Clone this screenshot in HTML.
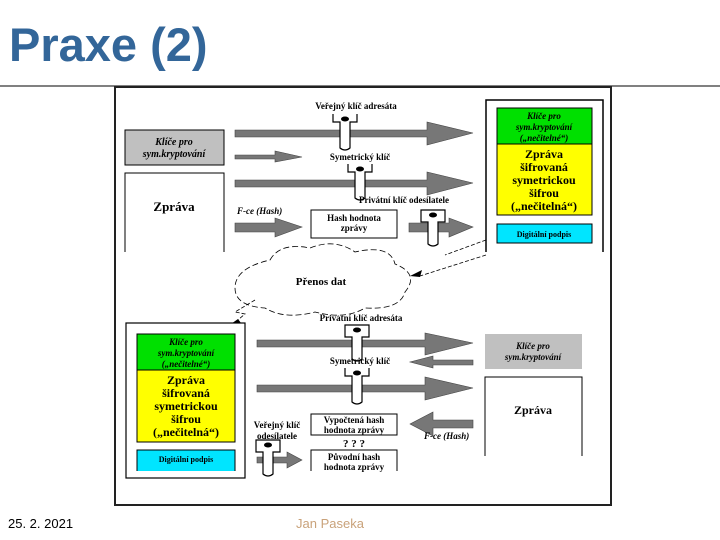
<!DOCTYPE html>
<html><head><meta charset="utf-8"><style>
html,body{margin:0;padding:0;background:#fff;width:720px;height:540px;overflow:hidden}
svg{position:absolute;left:0;top:0}
text{font-family:"Liberation Serif",serif;font-weight:bold}
</style></head><body>
<svg width="720" height="540" viewBox="0 0 720 540">
<defs>
<g id="key"><path d="M-12,0 h24 v12 h-7 v22 q-5,4 -10,0 v-22 h-7 z" fill="#fff" stroke="#000" stroke-width="1.2"/><ellipse cx="0" cy="5" rx="4" ry="2.5" fill="#000"/></g>
<g id="okey"><path d="M-12,0 v8 h7 v26 q5,4 10,0 v-26 h7 v-8" fill="#fff" stroke="#000" stroke-width="1.2"/><ellipse cx="0" cy="5" rx="4" ry="2.5" fill="#000"/></g>
</defs>
<text x="9" y="61" style="font-family:'Liberation Sans',sans-serif;font-size:47px;fill:#336699">Praxe (2)</text>
<line x1="0" y1="86" x2="720" y2="86" stroke="#000" stroke-width="1"/>
<rect x="115" y="87" width="496" height="418" fill="#fff" stroke="#222" stroke-width="2"/>
<text x="8" y="528" style="font-family:'Liberation Sans',sans-serif;font-weight:normal;font-size:13px;fill:#000">25. 2. 2021</text>
<text x="296" y="528" style="font-family:'Liberation Sans',sans-serif;font-weight:normal;font-size:13px;fill:#c9a27a">Jan Paseka</text>

<g fill="#777" stroke="#444" stroke-width="0.6">
<path d="M235,130 h192 v-8 l46,11 l-46,12 v-8 h-192z"/>
<path d="M235,155 h40 v-4 l27,6 l-27,5 v-3 h-40z"/>
<path d="M235,180 h192 v-8 l46,11 l-46,12 v-8 h-192z"/>
<path d="M235,223 h40 v-5 l27,9 l-27,10 v-5 h-40z"/>
<path d="M409,223 h40 v-5 l24,9 l-24,10 v-5 h-40z"/>
<path d="M257,340 h168 v-7 l48,10 l-48,12 v-8 h-168z"/>
<path d="M473,360 h-40 v-4 l-23,6 l23,6 v-3 h40z"/>
<path d="M257,385 h168 v-8 l48,11 l-48,12 v-8 h-168z"/>
<path d="M473,420 h-40 v-8 l-23,12 l23,12 v-8 h40z"/>
<path d="M257,457 h30 v-5 l15,8 l-15,8 v-5 h-30z"/>
</g>
<use href="#okey" x="345" y="114"/>
<use href="#okey" x="360" y="164"/>
<use href="#key" x="433" y="210"/>
<use href="#key" x="357" y="325"/>
<use href="#okey" x="357" y="368"/>
<use href="#key" x="268" y="440"/>

<g font-size="9">
<text x="356" y="109" text-anchor="middle">Veřejný klíč adresáta</text>
<text x="360" y="160" text-anchor="middle">Symetrický klíč</text>
<text x="404" y="203" text-anchor="middle">Privátní klíč odesílatele</text>
<text x="361" y="321" text-anchor="middle">Privátní klíč adresáta</text>
<text x="360" y="364" text-anchor="middle">Symetrický klíč</text>
<text x="277" y="428" text-anchor="middle">Veřejný klíč</text>
<text x="277" y="439" text-anchor="middle">odesílatele</text>
</g>
<text x="237" y="214" font-size="9" font-style="italic" font-weight="normal">F-ce (Hash)</text>
<text x="424" y="439" font-size="9" font-style="italic" font-weight="normal">F-ce (Hash)</text>

<rect x="125" y="130" width="99" height="35" fill="#c0c0c0" stroke="#000"/>
<text x="174" y="145" font-size="10" font-style="italic" font-weight="normal" text-anchor="middle">Klíče pro</text>
<text x="174" y="157" font-size="10" font-style="italic" font-weight="normal" text-anchor="middle">sym.kryptování</text>
<path d="M125,252 V173 H224 V252" fill="#fff" stroke="#000"/>
<text x="174" y="211" font-size="13" text-anchor="middle">Zpráva</text>
<rect x="311" y="210" width="86" height="28" fill="#fff" stroke="#000"/>
<text x="354" y="221" font-size="9" text-anchor="middle">Hash hodnota</text>
<text x="354" y="231" font-size="9" text-anchor="middle">zprávy</text>

<path d="M486,252 V100 H603 V252" fill="#fff" stroke="#000" stroke-width="1.5"/>
<rect x="497" y="108" width="95" height="36" fill="#00e000" stroke="#000"/>
<text x="544" y="119" font-size="9" font-style="italic" font-weight="normal" text-anchor="middle">Klíče pro</text>
<text x="544" y="130" font-size="9" font-style="italic" font-weight="normal" text-anchor="middle">sym.kryptování</text>
<text x="544" y="141" font-size="9" font-style="italic" font-weight="normal" text-anchor="middle">(„nečitelné“)</text>
<rect x="497" y="144" width="95" height="71" fill="#ffff00" stroke="#000"/>
<g font-size="12" text-anchor="middle">
<text x="544" y="158">Zpráva</text><text x="544" y="171">šifrovaná</text><text x="544" y="184">symetrickou</text><text x="544" y="197">šifrou</text><text x="544" y="210">(„nečitelná“)</text></g>
<rect x="497" y="224" width="95" height="19" fill="#00e5ff" stroke="#000"/>
<text x="544" y="237" font-size="8" text-anchor="middle">Digitální podpis</text>

<path d="M270,260 q10,-18 40,-12 q25,-10 45,4 q35,-8 40,12 q25,10 10,28 q-5,18 -40,16 q-20,12 -50,4 q-30,8 -50,-4 q-30,-2 -30,-20 q0,-20 35,-28z" fill="#fff" stroke="#000" stroke-dasharray="6,3" stroke-width="0.8"/>
<text x="321" y="285" font-size="11" text-anchor="middle">Přenos dat</text>
<path d="M486,240 L445,255 M486,255 L420,276" stroke="#000" stroke-dasharray="4,2" stroke-width="0.8" fill="none"/>
<path d="M410,276 l12,-6 l-2,7z" fill="#000"/>
<path d="M255,300 l-20,12 l10,2 l-12,10" stroke="#000" stroke-dasharray="4,2" stroke-width="0.8" fill="none"/>
<path d="M228,326 l10,-7 l3,4z" fill="#000"/>

<rect x="126" y="323" width="119" height="155" fill="#fff" stroke="#000" stroke-width="1.2"/>
<rect x="137" y="334" width="98" height="36" fill="#00e000" stroke="#000"/>
<text x="186" y="345" font-size="9" font-style="italic" font-weight="normal" text-anchor="middle">Klíče pro</text>
<text x="186" y="356" font-size="9" font-style="italic" font-weight="normal" text-anchor="middle">sym.kryptování</text>
<text x="186" y="367" font-size="9" font-style="italic" font-weight="normal" text-anchor="middle">(„nečitelné“)</text>
<rect x="137" y="370" width="98" height="72" fill="#ffff00" stroke="#000"/>
<g font-size="12" text-anchor="middle">
<text x="186" y="384">Zpráva</text><text x="186" y="397">šifrovaná</text><text x="186" y="410">symetrickou</text><text x="186" y="423">šifrou</text><text x="186" y="436">(„nečitelná“)</text></g>
<path d="M137,471 V450 H235 V471" fill="#00e5ff" stroke="#000"/>
<text x="186" y="462" font-size="8" text-anchor="middle">Digitální podpis</text>

<rect x="311" y="414" width="86" height="21" fill="#fff" stroke="#000"/>
<text x="354" y="423" font-size="9" text-anchor="middle">Vypočtená hash</text>
<text x="354" y="433" font-size="9" text-anchor="middle">hodnota zprávy</text>
<text x="354" y="447" font-size="11" text-anchor="middle">? ? ?</text>
<path d="M311,471 V450 H397 V471" fill="#fff" stroke="#000"/>
<text x="354" y="460" font-size="9" text-anchor="middle">Původní hash</text>
<text x="354" y="470" font-size="9" text-anchor="middle">hodnota zprávy</text>

<rect x="485" y="334" width="97" height="35" fill="#c0c0c0"/>
<text x="533" y="349" font-size="9" font-style="italic" font-weight="normal" text-anchor="middle">Klíče pro</text>
<text x="533" y="360" font-size="9" font-style="italic" font-weight="normal" text-anchor="middle">sym.kryptování</text>
<path d="M485,456 V377 H582 V456" fill="#fff" stroke="#000"/>
<text x="533" y="414" font-size="12" text-anchor="middle">Zpráva</text>
</svg>
</body></html>
